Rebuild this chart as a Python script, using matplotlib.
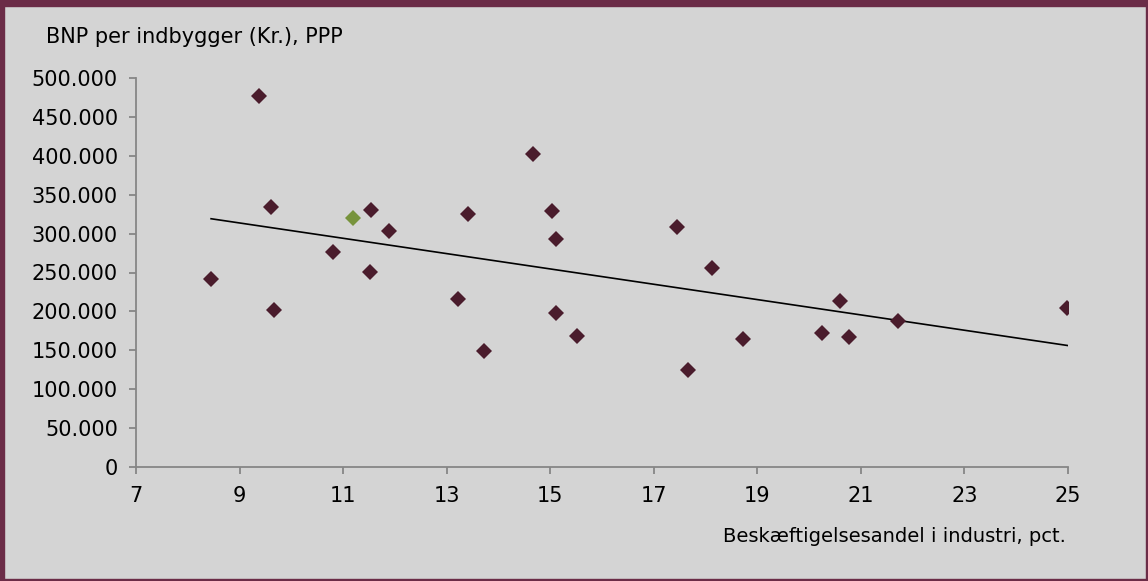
import numpy as np
import matplotlib
matplotlib.use("Agg")
import matplotlib.pyplot as plt
from matplotlib.patches import Rectangle
from matplotlib.ticker import FuncFormatter, MultipleLocator

# Beskæftigelsesandel i industri (pct.) og BNP per indbygger (kr., PPP)
industri = [8.45, 9.375, 9.61, 9.67, 10.81, 11.51, 11.53, 11.89, 13.21,
            13.41, 13.73, 14.67, 15.04, 15.11, 15.12, 15.51, 17.44, 17.66,
            18.13, 18.73, 20.24, 20.60, 20.78, 21.72, 24.99]
bnp = [241200, 477200, 334600, 202200, 276300, 251000, 330700, 303700, 216300,
       324800, 149500, 402700, 329400, 198300, 292600, 168800, 308100, 125100,
       255300, 164900, 171800, 213800, 167500, 187200, 204800]

# Danmark (fremhævet)
dk_industri = [11.20]
dk_bnp = [320000]

x_ticks = [7, 9, 11, 13, 15, 17, 19, 21, 23, 25]
xlim = (7, 25)
ylim = (0, 500000)

BG = '#d4d4d4'
BORDER = '#6b2c47'
DOT = '#4a1c2c'
GREEN = '#77933c'
AXIS = '#868686'

W, H = 1148, 581
fig = plt.figure(figsize=(W / 100, H / 100), dpi=100, facecolor=BG)

# ramme rundt om figuren
fig.patches.append(Rectangle((0, 1 - 6 / H), 1, 6 / H, transform=fig.transFigure,
                             color=BORDER, zorder=0))
fig.patches.append(Rectangle((0, 0), 4 / W, 1, transform=fig.transFigure,
                             color=BORDER, zorder=0))
fig.patches.append(Rectangle((1 - 2 / W, 0), 2 / W, 1, transform=fig.transFigure,
                             color=BORDER, zorder=0))
fig.patches.append(Rectangle((0, 0), 1, 2 / H, transform=fig.transFigure,
                             color=BORDER, zorder=0))

ax = fig.add_axes([136 / W, 1 - 467 / H, (1068 - 136) / W, (467 - 78) / H])
ax.set_facecolor(BG)

# lineær trendlinje over alle lande
all_x = np.array(industri + dk_industri)
all_y = np.array(bnp + dk_bnp)
k, m = np.polyfit(all_x, all_y, 1)
tx = np.array([all_x.min(), all_x.max()])
ax.plot(tx, k * tx + m, color='black', lw=1.2, zorder=2)

ax.plot(industri, bnp, ls='none', marker='D', ms=8.6, mew=0, color=DOT, zorder=3)
ax.plot(dk_industri, dk_bnp, ls='none', marker='D', ms=8.6, mew=0, color=GREEN, zorder=3)

ax.set_xlim(*xlim)
ax.set_ylim(*ylim)
ax.set_xticks(x_ticks)
ax.yaxis.set_major_locator(MultipleLocator(50000))
ax.yaxis.set_major_formatter(FuncFormatter(lambda v, p: f"{v:,.0f}".replace(',', '.')))

for s in ['top', 'right']:
    ax.spines[s].set_visible(False)
for s in ['left', 'bottom']:
    ax.spines[s].set_color(AXIS)
    ax.spines[s].set_linewidth(1.3)
ax.tick_params(colors=AXIS, labelcolor='black', labelsize=15, length=5, width=1.3,
               direction='out')
ax.tick_params(axis='y', pad=8)
ax.tick_params(axis='x', pad=9)

fig.text(46 / W, 1 - 37 / H, 'BNP per indbygger (Kr.), PPP', fontsize=15,
         ha='left', va='center')
fig.text(1066 / W, 1 - 537 / H, 'Beskæftigelsesandel i industri, pct.', fontsize=14,
         ha='right', va='center')

fig.savefig('out.png', dpi=100, facecolor=BG)
